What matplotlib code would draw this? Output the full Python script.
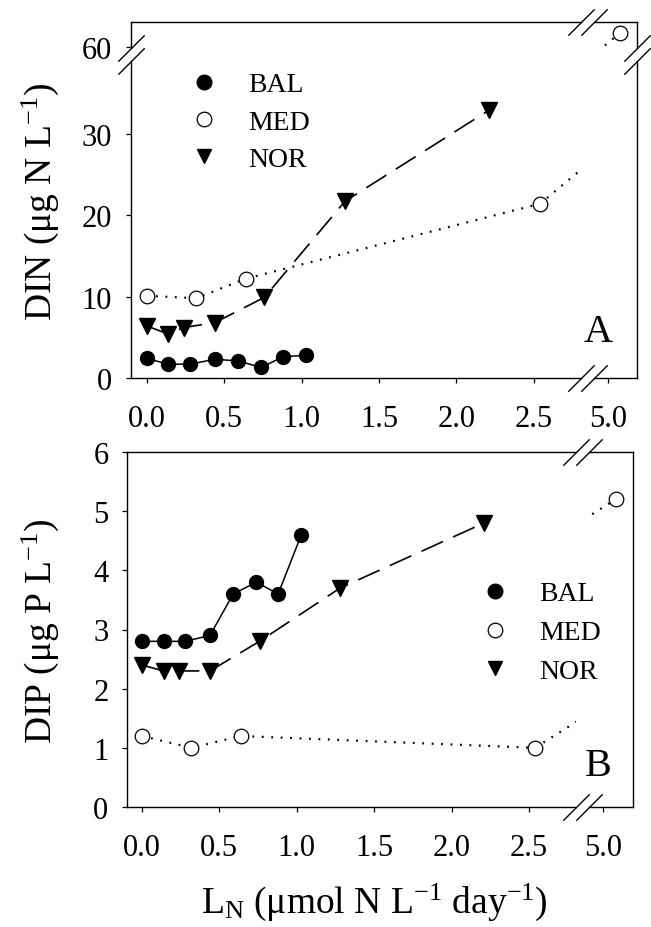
import matplotlib
matplotlib.use("Agg")
import matplotlib.pyplot as plt
from matplotlib.lines import Line2D

plt.rcParams['font.family'] = ['Liberation Serif', 'DejaVu Serif']
plt.rcParams['mathtext.fontset'] = 'custom'
plt.rcParams['mathtext.rm'] = 'Liberation Serif'
plt.rcParams['mathtext.it'] = 'Liberation Serif:italic'
plt.rcParams['lines.scale_dashes'] = False

# values
bal_x = [0.0, 0.14, 0.28, 0.44, 0.59, 0.74, 0.88, 1.03]
bal_din = [2.4, 1.7, 1.7, 2.3, 2.1, 1.3, 2.6, 2.8]
bal_dip = [2.8, 2.8, 2.8, 2.9, 3.6, 3.8, 3.6, 4.6]

med_x = [0.0, 0.32, 0.64, 2.54, 5.08]
med_din = [10.1, 9.8, 12.2, 21.4, 61.8]
med_dip = [1.2, 1.0, 1.2, 1.0, 5.2]

nor_x = [0.0, 0.14, 0.24, 0.44, 0.76, 1.28, 2.21]
nor_din = [6.4, 5.4, 6.2, 6.8, 9.9, 21.7, 32.9]
nor_dip = [2.4, 2.3, 2.3, 2.3, 2.8, 3.7, 4.8]

names = ['BAL', 'MED', 'NOR']
xticks_lo = [0.0, 0.5, 1.0, 1.5, 2.0, 2.5]
xticks_hi = [5.0]

W, H = 651, 928
fig = plt.figure(figsize=(W / 100, H / 100), dpi=100)


def box(x0, x1, y0, y1):
    # pixel box measured from top-left corner
    ax = fig.add_axes([x0 / W, 1 - y1 / H, (x1 - x0) / W, (y1 - y0) / H])
    ax.patch.set_visible(False)
    return ax


bal_kw = dict(color='k', marker='o', ms=10, ls='-', lw=1.1)
med_kw = dict(color='k', marker='o', mfc='white', ms=10.5, mew=0.9,
              ls=(0, (1.3, 5.5)), lw=1.6)
nor_kw = dict(color='k', marker='v', ms=11, ls=(0, (17, 8)), lw=1.2)

tick_kw = dict(direction='out', length=3.6, width=0.9, labelsize=22)
brk_kw = dict(marker=[(-1, -1), (1, 1)], ms=19, mew=1.0, color='k',
              ls='none', clip_on=False)


def draw(ax, y_bal, y_med, y_nor):
    ax.plot(bal_x, y_bal, **bal_kw)
    ax.plot(med_x, y_med, **med_kw)
    ax.plot(nor_x, y_nor, **nor_kw)
    for s in ax.spines.values():
        s.set_linewidth(1.0)
    ax.tick_params(**tick_kw)
    ax.tick_params(axis='x', pad=15)
    ax.tick_params(axis='y', pad=10)
    ax.tick_params(top=False, right=False)


def brk(ax, corners):
    for cx, cy in corners:
        ax.plot([cx], [cy], transform=ax.transAxes, **brk_kw)


# ---- panel A (both axes broken) ----
a_ll = box(130.8, 581, 62, 379)
a_lr = box(594, 637, 62, 379)
a_ul = box(130.8, 581, 23, 49)
a_ur = box(594, 637, 23, 49)

for ax in (a_ll, a_lr, a_ul, a_ur):
    draw(ax, bal_din, med_din, nor_din)

ylo_a = (0, 38.94)
yhi_a = (59.9, 63.1)
xlo_a = (-0.102, 2.804)
xhi_a = (4.91, 5.187)

a_ll.set_xlim(xlo_a); a_ll.set_ylim(ylo_a)
a_lr.set_xlim(xhi_a); a_lr.set_ylim(ylo_a)
a_ul.set_xlim(xlo_a); a_ul.set_ylim(yhi_a)
a_ur.set_xlim(xhi_a); a_ur.set_ylim(yhi_a)

a_ll.spines[['top', 'right']].set_visible(False)
a_ll.set_xticks(xticks_lo, ['%.1f' % v for v in xticks_lo])
a_ll.set_yticks([0, 10, 20, 30])

a_lr.spines[['top', 'left']].set_visible(False)
a_lr.set_xticks(xticks_hi, ['%.1f' % v for v in xticks_hi])
a_lr.set_yticks([])

a_ul.spines[['bottom', 'right']].set_visible(False)
a_ul.set_xticks([])
a_ul.set_yticks([60])

a_ur.spines[['bottom', 'left']].set_visible(False)
a_ur.set_xticks([]); a_ur.set_yticks([])

brk(a_ll, [(1, 0), (0, 1)])
brk(a_lr, [(0, 0), (1, 1)])
brk(a_ul, [(1, 1), (0, 0)])
brk(a_ur, [(0, 1), (1, 0)])

# ---- panel B (x axis broken) ----
b_l = box(127.3, 576.3, 453, 808)
b_r = box(589, 633.3, 453, 808)
for ax in (b_l, b_r):
    draw(ax, bal_dip, med_dip, nor_dip)
    ax.set_ylim(0, 6)

b_l.set_xlim(-0.094, 2.806)
b_r.set_xlim(4.9075, 5.194)
b_l.spines['right'].set_visible(False)
b_l.set_xticks(xticks_lo, ['%.1f' % v for v in xticks_lo])
b_l.set_yticks(range(7))
b_r.spines['left'].set_visible(False)
b_r.set_xticks(xticks_hi, ['%.1f' % v for v in xticks_hi])
b_r.set_yticks([])

brk(b_l, [(1, 0), (1, 1)])
brk(b_r, [(0, 0), (0, 1)])

# ---- legends ----
handles = [Line2D([], [], ls='none', marker='o', color='k', ms=10.5),
           Line2D([], [], ls='none', marker='o', color='k', mfc='white', mew=0.9, ms=10.5),
           Line2D([], [], ls='none', marker='v', color='k', ms=10.5)]
leg_kw = dict(frameon=False, fontsize=20, handlelength=1.0, handletextpad=1.1,
              labelspacing=0.42, borderpad=0, borderaxespad=0, loc='upper left',
              bbox_transform=fig.transFigure)
a_ll.legend(handles, names, bbox_to_anchor=(190 / W, 1 - 73 / H), **leg_kw)
b_l.legend(handles, names, bbox_to_anchor=(481 / W, 1 - 582 / H),
           **dict(leg_kw, labelspacing=0.48))

# ---- labels ----
fig.text(598 / W, 1 - 333 / H, 'A', fontsize=29, ha='center', va='center')
fig.text(598 / W, 1 - 767 / H, 'B', fontsize=29, ha='center', va='center')

fig.text(40 / W, 1 - 202 / H, 'DIN (μg N L$^{\\mathregular{-1}}$)', rotation=90,
         fontsize=27, ha='center', va='center')
fig.text(40 / W, 1 - 631 / H, 'DIP (μg P L$^{\\mathregular{-1}}$)', rotation=90,
         fontsize=27, ha='center', va='center')
fig.text(374 / W, 1 - 913 / H,
         'L$_{\\mathregular{N}}$ (μmol N L$^{\\mathregular{-1}}$ day$^{\\mathregular{-1}}$)',
         fontsize=27, ha='center', va='baseline')

fig.savefig('out.png', dpi=100)
